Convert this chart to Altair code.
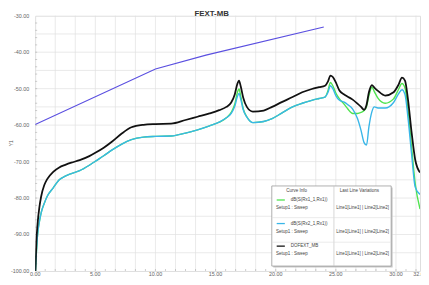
import altair as alt
import pandas as pd

# ---------------- data ----------------
freq = [0.02, 0.1, 0.2, 0.35, 0.5, 0.75, 1.0, 1.5, 2.0, 2.5, 3.0, 3.7, 4.5, 5.0, 5.7,
        6.4, 7.2, 8.0, 9.0, 10.0, 11.3, 12.5, 13.5, 14.5, 15.3, 15.9, 16.3, 16.6, 16.8,
        16.95, 17.1, 17.3, 17.6, 18.1, 19.0, 19.7, 20.5, 21.4, 22.2, 23.0, 23.6, 24.1,
        24.35, 24.55, 24.75, 25.0, 25.3, 25.7, 26.0, 26.4, 26.8, 27.1, 27.35, 27.55,
        27.75, 28.0, 28.2, 28.5, 29.1, 29.8, 30.2, 30.5, 30.75, 31.0, 31.3, 31.6, 32.0]

black_db = [-100, -92, -87, -82.5, -79.5, -76.5, -74.8, -72.8, -71.6, -70.9, -70.3, -69.6,
            -68.5, -67.6, -66.2, -64.5, -62.3, -60.6, -59.9, -59.7, -59.6, -58.6, -57.7,
            -56.8, -55.9, -55.0, -53.8, -51.5, -48.8, -47.8, -49.5, -52.5, -55.0, -56.3,
            -56.0, -55.0, -53.7, -52.3, -51.0, -50.1, -49.6, -49.2, -48.0, -46.4, -46.8,
            -48.3, -50.5, -51.6, -52.2, -53.0, -54.1, -55.0, -55.8, -54.5, -51.0, -49.0,
            -49.7, -50.6, -51.9, -51.0, -49.0, -47.0, -47.8, -53.0, -62.0, -69.5, -73.0]

cyan_db = [-100, -95, -90, -86.5, -84, -81.5, -79.5, -77.2, -75.0, -74.0, -73.3, -72.5,
           -71.0, -69.9, -68.4, -66.8, -65.2, -64.0, -63.3, -63.1, -63.0, -62.2, -61.3,
           -60.2, -59.2, -58.0, -56.8, -54.8, -52.3, -51.3, -53.0, -55.8, -57.8, -59.3,
           -59.0, -58.2, -56.7, -55.0, -54.0, -53.2, -52.7, -52.3, -51.0, -49.2, -50.0,
           -51.9, -53.2, -53.7, -54.4, -55.6, -58.2, -61.5, -64.8, -65.5, -60.5, -56.3,
           -55.0, -55.3, -55.3, -53.8, -51.5, -50.3, -51.6, -58.0, -68.0, -77.0, -79.0]

green_db = [-100, -95, -90, -86.5, -84, -81.5, -79.5, -77.2, -75.0, -74.0, -73.3, -72.5,
            -71.0, -69.9, -68.4, -66.8, -65.2, -64.0, -63.3, -63.1, -63.0, -62.2, -61.3,
            -60.2, -59.2, -58.0, -56.5, -54.2, -51.2, -50.1, -52.2, -55.5, -57.7, -59.3,
            -59.0, -58.2, -56.7, -55.0, -54.0, -53.2, -52.7, -52.3, -50.5, -48.3, -49.2,
            -51.2, -52.8, -54.3, -55.6, -56.8, -56.8, -56.5, -56.0, -55.0, -52.0, -49.6,
            -50.8, -52.6, -54.0, -52.8, -50.3, -48.6, -49.8, -56.0, -66.0, -76.0, -83.0]

limit_freq = [0.0, 10.0, 14.2, 24.0]
limit_db = [-59.8, -44.6, -40.8, -33.1]

y_labels = [-100, -90, -80, -70, -60, -50, -40, -30]
y_label_text = ["-100.00", "-90.00", "-80.00", "-70.00", "-60.00", "-50.00", "-40.00", "-30.00"]
y_grid = list(range(-95, -30, 5))
y_minor = list(range(-98, -30, 2))
x_labels = [0, 5, 10, 15, 20, 25, 30, 32]
x_label_text = ["0.00", "5.00", "10.00", "15.00", "20.00", "25.00", "30.00", "32.00"]
x_grid = [round(k * 5 / 3, 4) for k in range(1, 20)]
x_minor = [round(k * 5 / 6, 4) for k in range(1, 39)]

title_text = "FEXT-MB"
y_title = "Y1"
legend_names = ["dB(S(Rx1_1,Rx1))", "dB(S(Rx2_1,Rx1))", "DOFEXT_MB"]
legend_setup = "Setup1 : Sweep"
legend_var = "Line1[Line1] | Line2[Line2]"

# ---------------- chart ----------------
FONT = "Liberation Sans"
curves = pd.DataFrame({"f": freq, "black": black_db, "cyan": cyan_db, "green": green_db})
limit = pd.DataFrame({"f": limit_freq, "db": limit_db})

xs = alt.Scale(domain=[0, 32], nice=False, zero=False)
ys = alt.Scale(domain=[-100, -30], nice=False, zero=False)


def X(field):
    return alt.X(field, scale=xs, axis=None)


def Y(field):
    return alt.Y(field, scale=ys, axis=None)


GRID = "#e0e0e0"
vgrid = alt.Chart(pd.DataFrame({"g": x_grid})).mark_rule(color=GRID, strokeWidth=0.7).encode(x=X("g:Q"))
hgrid = alt.Chart(pd.DataFrame({"g": y_grid})).mark_rule(color=GRID, strokeWidth=0.7).encode(y=Y("g:Q"))

# small tick marks along the axes
yt = alt.Chart(pd.DataFrame({"g": y_minor})).mark_rule(color="#aaaaaa", strokeWidth=0.6).encode(
    y=Y("g:Q"), x=alt.value(0), x2=alt.value(2))
xt = alt.Chart(pd.DataFrame({"g": x_minor})).mark_rule(color="#aaaaaa", strokeWidth=0.6).encode(
    x=X("g:Q"), y=alt.value(258), y2=alt.value(260))

ylab = alt.Chart(pd.DataFrame({"v": y_labels, "t": y_label_text})).mark_text(
    align="right", baseline="middle", fontSize=5.5, font=FONT, color="#666").encode(
    y=Y("v:Q"), x=alt.value(-6), text="t:N")
xlab = alt.Chart(pd.DataFrame({"v": x_labels, "t": x_label_text})).mark_text(
    align="center", baseline="middle", fontSize=5.5, font=FONT, color="#666").encode(
    x=X("v:Q"), y=alt.value(263.5), text="t:N")
ytitle = alt.Chart(pd.DataFrame({"t": [y_title]})).mark_text(
    angle=270, align="center", baseline="middle", fontSize=5, font=FONT, color="#555").encode(
    x=alt.value(-25), y=alt.value(130), text="t:N")
ttl = alt.Chart(pd.DataFrame({"t": [title_text]})).mark_text(
    align="center", baseline="alphabetic", fontSize=8, fontWeight="bold", font=FONT, color="#333").encode(
    x=alt.value(179.8), y=alt.value(0.2), text="t:N")

base = alt.Chart(curves)
green = base.mark_line(color="#4fe34f", strokeWidth=1.4, interpolate="monotone", clip=True).encode(
    x=X("f:Q"), y=Y("green:Q"))
cyan = base.mark_line(color="#38b6e8", strokeWidth=1.4, interpolate="monotone", clip=True).encode(
    x=X("f:Q"), y=Y("cyan:Q"))
black = base.mark_line(color="#111111", strokeWidth=1.8, interpolate="monotone", clip=True).encode(
    x=X("f:Q"), y=Y("black:Q"))
lim = alt.Chart(limit).mark_line(color="#5a4fe0", strokeWidth=1.1, clip=True).encode(
    x=X("f:Q"), y=Y("db:Q"))

one = pd.DataFrame({"t": [""]})


def rect(x1, x2, y1, y2, fill, stroke, sw=0.8):
    return alt.Chart(one).mark_rect(fill=fill, stroke=stroke, strokeWidth=sw).encode(
        x=alt.value(x1), x2=alt.value(x2), y=alt.value(y1), y2=alt.value(y2))


def rule(x1, x2, y1, y2, color, sw):
    return alt.Chart(one).mark_rule(color=color, strokeWidth=sw).encode(
        x=alt.value(x1), x2=alt.value(x2), y=alt.value(y1), y2=alt.value(y2))


def txt(s, x, y, align="left", size=4.6):
    return alt.Chart(pd.DataFrame({"t": [s]})).mark_text(
        align=align, baseline="middle", fontSize=size, font=FONT, color="#444").encode(
        x=alt.value(x), y=alt.value(y), text="t:N")


L, R, T, B = 241, 362.6, 173.4, 255
legend_layers = [
    rect(L + 1.5, R + 1.5, T + 1.5, B + 1.5, "#c8c8c8", "#c8c8c8", 0),
    rect(L, R, T, B, "white", "#9a9a9a", 0.8),
    rule(304.3, 304.3, T, B, "#c4c4c4", 0.7),
    rule(L, R, 205.7, 205.7, "#dddddd", 0.6),
    rule(L, R, 230.7, 230.7, "#dddddd", 0.6),
    txt("Curve Info", 266.3, 178.7, "center"),
    txt("Last Line Variations", 330.3, 178.7, "center"),
]
swatch_colors = ["#4fe34f", "#38b6e8", "#111111"]
row_y = [187.7, 211.7, 234.7]
for name, col, yy in zip(legend_names, swatch_colors, row_y):
    legend_layers.append(rule(246, 254.3, yy, yy, col, 1.3))
    legend_layers.append(txt(name, 260.3, yy))
    legend_layers.append(txt(legend_setup, 245.3, yy + 8.3))
    legend_layers.append(txt(legend_var, 333.6, yy + 8.3, "center"))

chart = alt.layer(vgrid, hgrid, yt, xt, green, cyan, black, lim, ylab, xlab, ytitle, ttl,
                  *legend_layers).properties(
    width=392, height=260,
    autosize=alt.AutoSizeParams(type="none"),
    padding={"left": 27.7, "top": 5.3, "right": 1, "bottom": 11},
).configure_view(stroke="#a8a8a8", strokeWidth=1).configure(background="white")

chart.save("out.html", embed_options={"renderer": "svg", "actions": False})
